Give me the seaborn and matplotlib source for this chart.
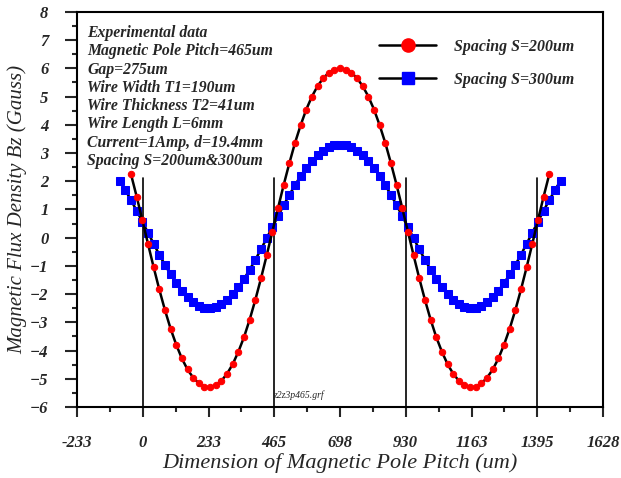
import pandas as pd
import matplotlib.pyplot as plt
import seaborn as sns
from matplotlib.lines import Line2D

# Position along the pole pitch (um), shared sampling for both runs
pitch_x = [-82, -62, -42, -22, -2, 18, 38, 58, 78, 98, 118, 138, 158, 178, 198, 218,
           238, 258, 278, 298, 318, 338, 358, 378, 398, 418, 438, 458, 478, 498, 518,
           538, 558, 578, 598, 618, 638, 658, 678, 698, 718, 738, 758, 778, 798, 818,
           838, 858, 878, 898, 918, 938, 958, 978, 998, 1018, 1038, 1058, 1078, 1098,
           1118, 1138, 1158, 1178, 1198, 1218, 1238, 1258, 1278, 1298, 1318, 1338, 1358,
           1378, 1398, 1418, 1438, 1458, 1478]

# Bz (Gauss) for spacing S=200um (red), sampled on pitch_x[2:-2]
bz_s200 = [2.25, 1.46, 0.63, -0.21, -1.04, -1.83, -2.56, -3.22, -3.79, -4.28, -4.67,
           -4.96, -5.16, -5.28, -5.30, -5.23, -5.07, -4.82, -4.48, -4.04, -3.52, -2.90,
           -2.20, -1.44, -0.63, 0.21, 1.04, 1.86, 2.63, 3.35, 3.98, 4.54, 5.00, 5.37,
           5.65, 5.85, 5.96, 6.00,
           5.96, 5.85, 5.65, 5.37, 5.00, 4.54, 3.98, 3.35, 2.63, 1.86, 1.04, 0.21,
           -0.63, -1.44, -2.20, -2.90, -3.52, -4.04, -4.48, -4.82, -5.07, -5.23, -5.30,
           -5.28, -5.16, -4.96, -4.67, -4.28, -3.79, -3.22, -2.56, -1.83, -1.04, -0.21,
           0.63, 1.46, 2.25]

# Bz (Gauss) for spacing S=300um (blue), sampled on pitch_x
bz_s300 = [2.02, 1.69, 1.33, 0.96, 0.57, 0.18, -0.21, -0.60, -0.96, -1.30, -1.61,
           -1.88, -2.11, -2.29, -2.41, -2.48, -2.50, -2.46, -2.36, -2.20, -2.00, -1.75,
           -1.46, -1.13, -0.78, -0.41, -0.02, 0.37, 0.76, 1.15, 1.51, 1.86, 2.18, 2.46,
           2.71, 2.92, 3.08, 3.20, 3.28, 3.30,
           3.28, 3.20, 3.08, 2.92, 2.71, 2.46, 2.18, 1.86, 1.51, 1.15, 0.76, 0.37,
           -0.02, -0.41, -0.78, -1.13, -1.46, -1.75, -2.00, -2.20, -2.36, -2.46, -2.50,
           -2.48, -2.41, -2.29, -2.11, -1.88, -1.61, -1.30, -0.96, -0.60, -0.21, 0.18,
           0.57, 0.96, 1.33, 1.69, 2.02]

pole_edges = [0, 465, 930, 1395]
x_ticks = [-233, 0, 233, 465, 698, 930, 1163, 1395, 1628]
x_minor = [-116.5, 116.5, 349, 581.5, 814, 1046.5, 1279, 1511.5]

info_lines = ["Experimental data",
              "Magnetic Pole Pitch=465um",
              "Gap=275um",
              "Wire Width T1=190um",
              "Wire Thickness T2=41um",
              "Wire Length L=6mm",
              "Current=1Amp, d=19.4mm",
              "Spacing S=200um&300um"]

df200 = pd.DataFrame({'x': pitch_x[2:-2], 'bz': bz_s200})
df300 = pd.DataFrame({'x': pitch_x, 'bz': bz_s300})

sns.set_style("ticks")
plt.rcParams['font.family'] = ['Liberation Serif', 'DejaVu Serif']

fig = plt.figure(figsize=(6.21, 4.78), dpi=100)
ax = fig.add_axes([0.124, 0.1485, 0.847, 0.8265])

# pole boundary lines
for xe in pole_edges:
    ax.plot([xe, xe], [-6, 2.1], color='black', lw=1.2, zorder=1)

sns.lineplot(data=df300, x='x', y='bz', ax=ax, color='black', lw=1.8,
             marker='s', markersize=6, markerfacecolor='blue', markeredgecolor='blue',
             sort=False, zorder=2)
sns.lineplot(data=df200, x='x', y='bz', ax=ax, color='black', lw=1.8,
             marker='o', markersize=4.6, markerfacecolor='red', markeredgecolor='red',
             sort=False, zorder=3)

ax.set_xlim(-233, 1628)
ax.set_ylim(-6, 8)
ax.set_xticks(x_ticks)
ax.set_xticklabels([str(v) for v in x_ticks])
ax.set_xticks(x_minor, minor=True)
ax.set_yticks(range(-6, 9))
ax.set_yticks([v + 0.5 for v in range(-6, 8)], minor=True)

for lab in ax.get_xticklabels() + ax.get_yticklabels():
    lab.set_fontweight('bold')
    lab.set_fontstyle('italic')
    lab.set_fontsize(12)

ax.tick_params(axis='x', which='major', direction='out', length=7.2, width=1.5, pad=13)
ax.tick_params(axis='x', which='minor', direction='out', length=3.3, width=1.5)
ax.tick_params(axis='y', which='major', direction='out', length=9, width=1.5, pad=11.5)
ax.tick_params(axis='y', which='minor', direction='out', length=3.6, width=1.5)
for sp in ax.spines.values():
    sp.set_visible(True)
    sp.set_linewidth(1.5)
    sp.set_color('black')

ax.set_xlabel("Dimension of Magnetic Pole Pitch (um)", fontsize=16, style='italic')
ax.set_ylabel("Magnetic Flux Density Bz (Gauss)", fontsize=15, style='italic')
ax.xaxis.set_label_coords(0.5, -0.142)
ax.yaxis.set_label_coords(-0.114, 0.5)
ax.xaxis.label.set_va('center')
ax.yaxis.label.set_va('center')

ax.text(0.019, 0.967, "\n".join(info_lines), transform=ax.transAxes, fontsize=11.3,
        fontweight='bold', style='italic', va='top', ha='left', linespacing=1.19)
ax.text(549, -5.57, "z2z3p465.grf", fontsize=7, style='italic', ha='center', va='center')

handles = [Line2D([], [], color='black', lw=1.8, marker='o', markersize=9.5,
                  markerfacecolor='red', markeredgecolor='red'),
           Line2D([], [], color='black', lw=1.8, marker='s', markersize=9,
                  markerfacecolor='blue', markeredgecolor='blue')]
leg = ax.legend(handles, ["Spacing S=200um", "Spacing S=300um"], loc='upper left',
                bbox_to_anchor=(0.575, 0.932), frameon=False, handlelength=3.6,
                handletextpad=1.1, labelspacing=1.08, borderpad=0, borderaxespad=0,
                prop={'family': 'Liberation Serif', 'weight': 'bold', 'style': 'italic', 'size': 11.4})

fig.savefig("out.png", dpi=100)
